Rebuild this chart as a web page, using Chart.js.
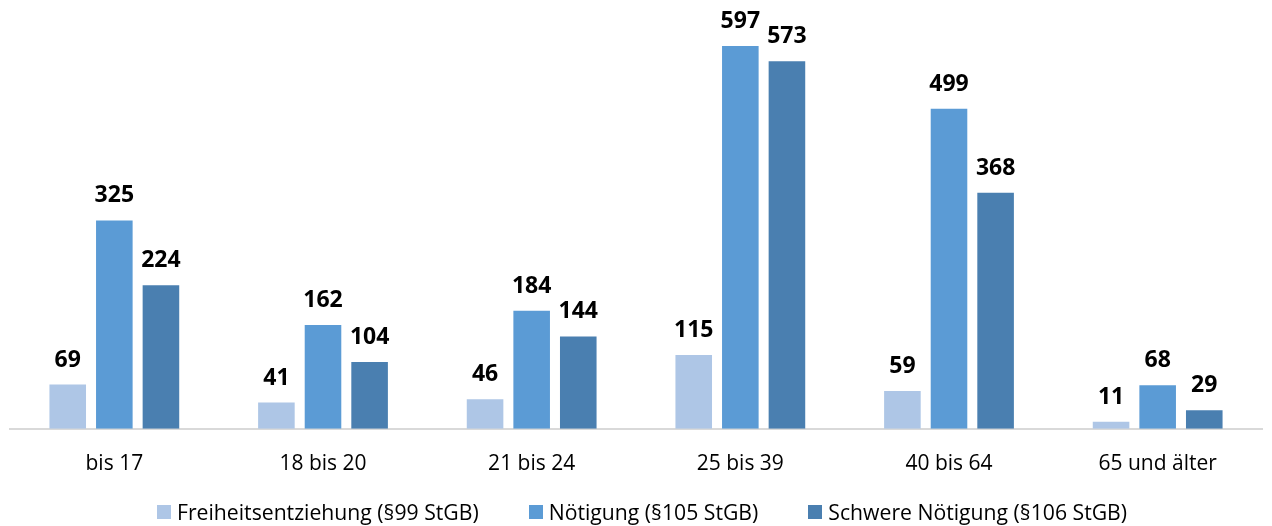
<!DOCTYPE html>
<html>
<head>
<meta charset="utf-8">
<script src="https://cdn.jsdelivr.net/npm/chart.js@4/dist/chart.umd.min.js"></script>
<style>
  html, body { margin: 0; padding: 0; background: #fff; overflow: hidden; }
  #wrap { position: relative; width: 1272px; height: 526px; }
  #legend { position: absolute; left: 157px; top: 498px; display: flex; white-space: nowrap;
            font-family: 'Open Sans', sans-serif; font-size: 21.2px; color: #000; line-height: 28px; }
  #legend .item { display: flex; align-items: center; margin-right: 50px; }
  #legend .box { width: 14px; height: 14px; margin-right: 6px; }
</style>
</head>
<body>
<div id="wrap"><canvas id="myChart"></canvas><div id="legend"></div></div>
<script>
var categories = ["bis 17", "18 bis 20", "21 bis 24", "25 bis 39", "40 bis 64", "65 und älter"];
var freiheit = [69, 41, 46, 115, 59, 11];
var noetigung = [325, 162, 184, 597, 499, 68];
var schwere = [224, 104, 144, 573, 368, 29];
var seriesNames = ["Freiheitsentziehung (§99 StGB)", "Nötigung (§105 StGB)", "Schwere Nötigung (§106 StGB)"];
var barColors = ["#aec6e6", "#5b9bd5", "#4a7fb0"];

var fontFamily = "'Open Sans', sans-serif";

// value labels above the bars
var valueLabels = {
  id: 'valueLabels',
  afterDatasetsDraw: function (chart) {
    var ctx = chart.ctx;
    ctx.save();
    ctx.font = "bold 23px " + fontFamily;
    ctx.fillStyle = "#000";
    ctx.textAlign = "center";
    ctx.textBaseline = "alphabetic";
    chart.data.datasets.forEach(function (ds, i) {
      chart.getDatasetMeta(i).data.forEach(function (bar, j) {
        ctx.fillText(ds.data[j], bar.x, bar.y - 18);
      });
    });
    ctx.restore();
  }
};

var chart = new Chart("myChart", {
  type: "bar",
  data: {
    labels: categories,
    datasets: [
      { label: seriesNames[0], data: freiheit, backgroundColor: barColors[0] },
      { label: seriesNames[1], data: noetigung, backgroundColor: barColors[1] },
      { label: seriesNames[2], data: schwere, backgroundColor: barColors[2] }
    ]
  },
  options: {
    responsive: true,
    maintainAspectRatio: false,
    animation: false,
    datasets: {
      bar: { categoryPercentage: 0.67, barPercentage: 0.785 }
    },
    layout: { padding: { left: 10, right: 10, top: 12, bottom: 26 } },
    scales: {
      x: {
        grid: { display: false, drawTicks: false },
        border: { color: "#d9d9d9", width: 2 },
        ticks: { color: "#000", font: { family: fontFamily, size: 21 }, padding: 23 }
      },
      y: {
        display: false,
        min: 0,
        max: 650
      }
    },
    plugins: {
      legend: { display: false },
      tooltip: { enabled: false }
    }
  },
  plugins: [valueLabels]
});

// legend below the chart
var legendEl = document.getElementById("legend");
seriesNames.forEach(function (name, i) {
  var item = document.createElement("div");
  item.className = "item";
  var box = document.createElement("span");
  box.className = "box";
  box.style.background = barColors[i];
  var txt = document.createElement("span");
  txt.textContent = name;
  item.appendChild(box);
  item.appendChild(txt);
  legendEl.appendChild(item);
});
</script>
</body>
</html>
